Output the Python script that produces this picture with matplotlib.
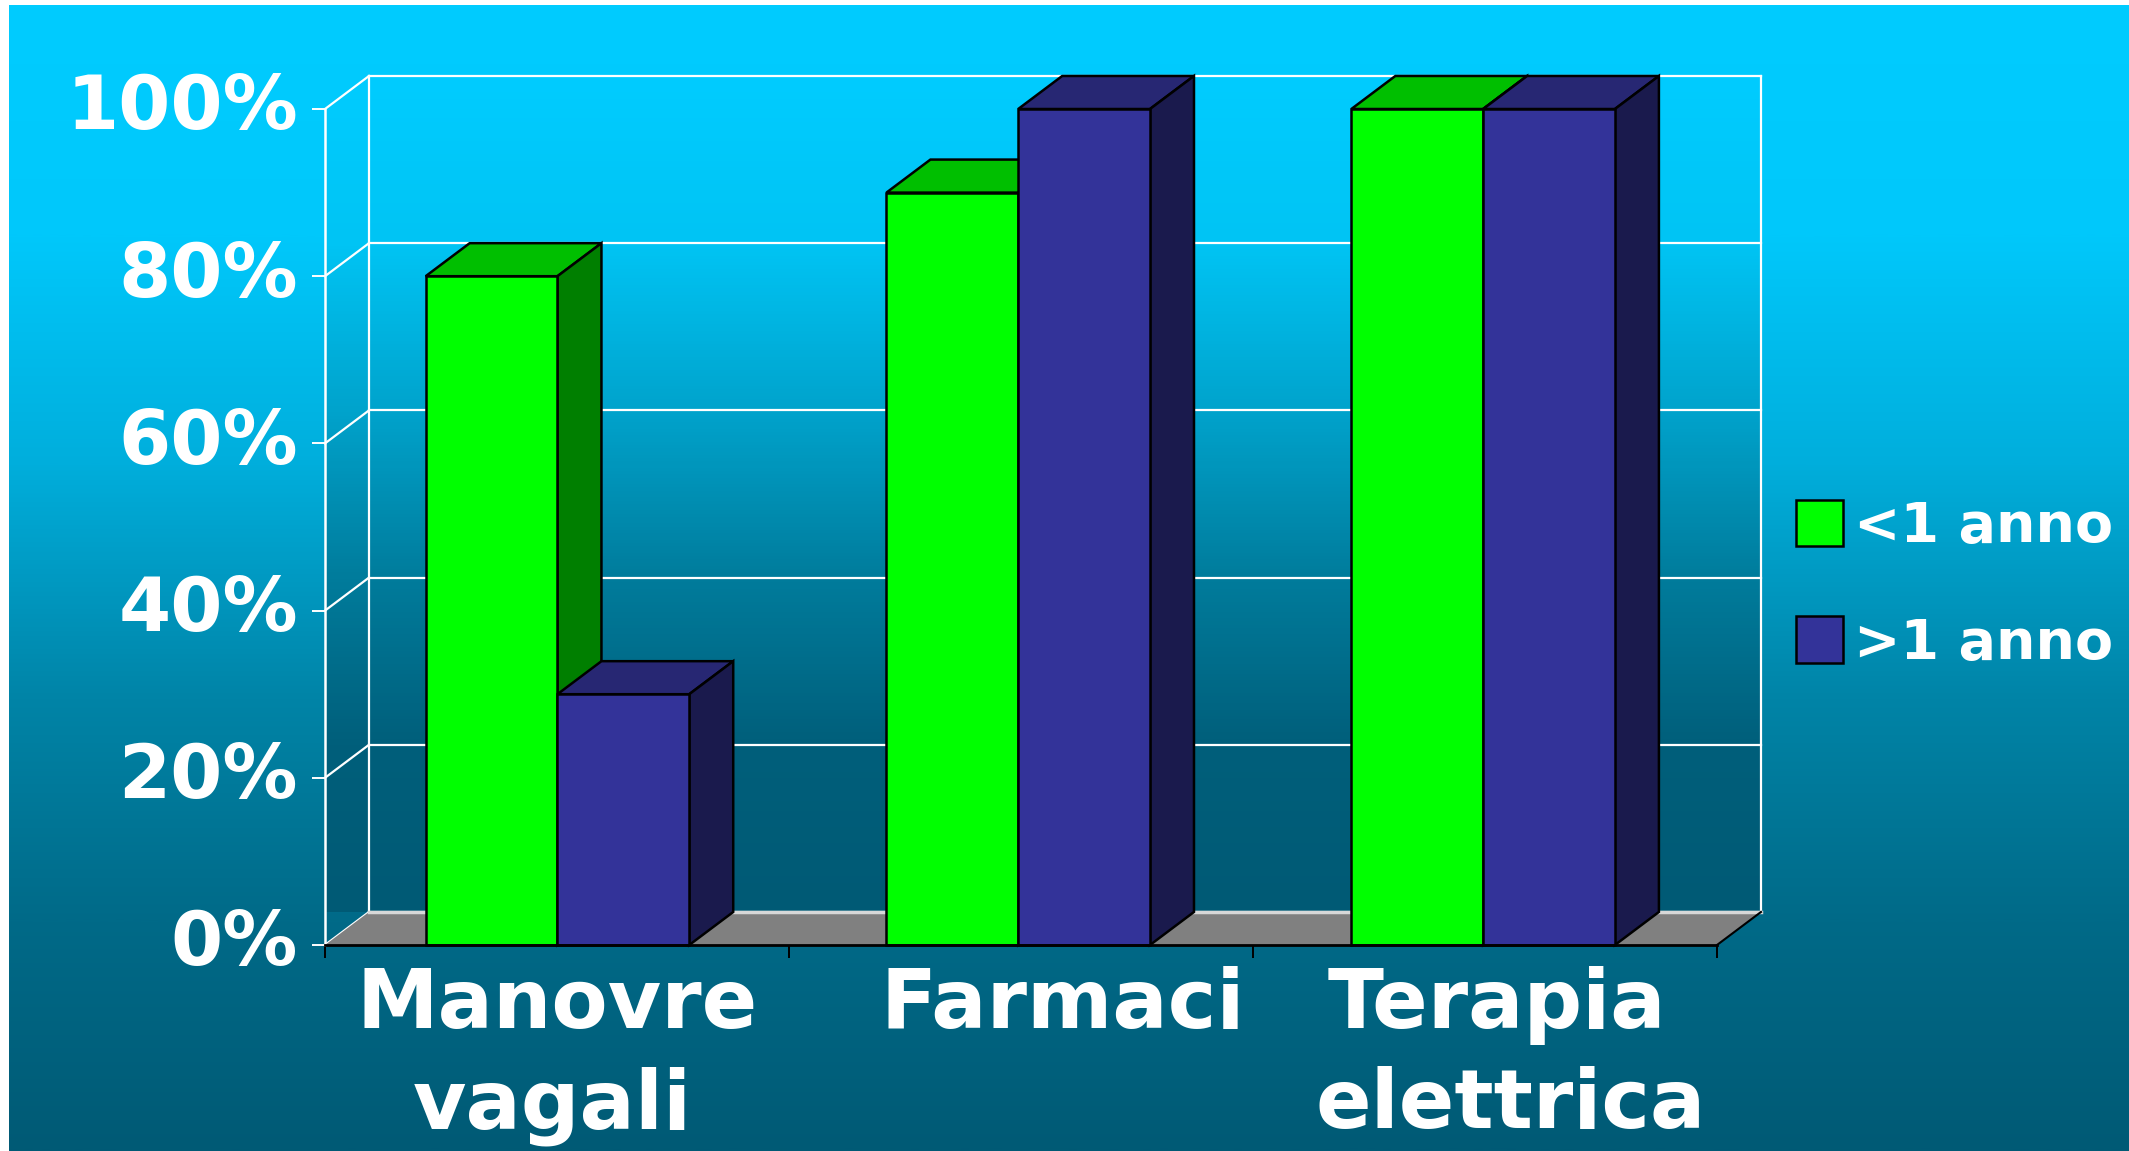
import numpy as np
import matplotlib
matplotlib.use('Agg')
from matplotlib import pyplot as plt
from matplotlib.colors import LinearSegmentedColormap
from matplotlib.patches import Patch, Polygon

categorie = ['Manovre\nvagali', 'Farmaci', 'Terapia\nelettrica']
serie = ['<1 anno', '>1 anno']
meno_di_un_anno = [80, 90, 100]
piu_di_un_anno = [30, 100, 100]
tick_y = [0, 20, 40, 60, 80, 100]

# righe delle etichette: testo, posizione x sull'asse, riga
righe_etichette = [('Manovre', 0.50, 0), ('vagali', 0.49, 1), ('Farmaci', 1.59, 0),
                   ('Terapia', 2.525, 0), ('elettrica', 2.555, 1)]
centri = [0.501, 1.494, 2.496]

L, H = 2129, 1151
VERDE = ('#00FF00', '#00BF00', '#007F00')
BLU = ('#333399', '#272773', '#1A1A4D')
SFONDO = ['#00CCFF', '#00C8FB', '#00AEDC', '#0085A8', '#006A88', '#005A75']
PARETE = ['#00CCFF', '#00C4F4', '#00A3CC', '#007C9C', '#005F7B', '#005A75']

plt.rcParams['font.family'] = 'DejaVu Sans'
plt.rcParams['font.weight'] = 'bold'

fig = plt.figure(figsize=(L / 100, H / 100), dpi=100, facecolor='white')

# sfondo sfumato, con il margine bianco in alto e a sinistra
bg = fig.add_axes([9 / L, 0, 1 - 9 / L, 1 - 5 / H], zorder=-1)
bg.imshow(np.linspace(0, 1, 512).reshape(-1, 1), aspect='auto',
          cmap=LinearSegmentedColormap.from_list('sfondo', SFONDO))
bg.axis('off')

ax = fig.add_axes([325 / L, 1 - 945 / H, (1717 - 325) / L, (945 - 109) / H])
ax.set_xlim(0, 3)
ax.set_ylim(0, 100)
ax.patch.set_visible(False)
for s in ax.spines.values():
    s.set_visible(False)

# profondita' della scena 3D in unita' degli assi
dx = 0.0948
dy = 3.95
x_max = 3

# pareti di fondo e laterale
parete = Polygon([(0, 0), (dx, dy), (x_max + dx, dy), (x_max + dx, 100 + dy), (dx, 100 + dy), (0, 100)],
                 transform=ax.transData, facecolor='none', edgecolor='none')
ax.add_patch(parete)
img = ax.imshow(np.linspace(0, 1, 256).reshape(-1, 1), aspect='auto', zorder=1,
                extent=(0, x_max + dx, dy, 100 + dy),
                cmap=LinearSegmentedColormap.from_list('parete', PARETE))
img.set_clip_box(fig.bbox)
img.set_clip_path(parete)
ax.set_xlim(0, 3)
ax.set_ylim(0, 100)

# griglia bianca
for v in tick_y:
    ax.plot([dx, x_max + dx], [v + dy, v + dy], color='white', lw=1.6, zorder=2, clip_on=False)
    ax.plot([0, dx], [v, v + dy], color='white', lw=1.6, zorder=2, clip_on=False)
ax.plot([dx, dx], [dy, 100 + dy], color='white', lw=1.6, zorder=2, clip_on=False)
ax.plot([x_max + dx, x_max + dx], [dy, 100 + dy], color='white', lw=1.6, zorder=2, clip_on=False)
ax.plot([0, 0], [0, 100], color='white', lw=1.8, zorder=2, clip_on=False)

# pavimento grigio
ax.add_patch(Polygon([(0, 0), (x_max, 0), (x_max + dx, dy), (dx, dy)], facecolor='#808080',
                     edgecolor='none', zorder=3, clip_on=False))
ax.plot([dx, x_max + dx], [dy, dy], color='#D8D8D8', lw=2.5, zorder=3, clip_on=False)
ax.plot([x_max, x_max + dx], [0, dy], color='black', lw=1.5, zorder=3, clip_on=False)
ax.plot([0, x_max], [0, 0], color='black', lw=2, zorder=9, clip_on=False)

larghezza = 0.284


def barra_3d(x, v, colori, z):
    fronte, sopra, lato = colori
    ax.add_patch(Polygon([(x, v), (x + dx, v + dy), (x + larghezza + dx, v + dy), (x + larghezza, v)],
                         facecolor=sopra, edgecolor='black', lw=1.8, zorder=z, clip_on=False))
    ax.add_patch(Polygon([(x + larghezza, 0), (x + larghezza + dx, dy), (x + larghezza + dx, v + dy),
                          (x + larghezza, v)],
                         facecolor=lato, edgecolor='black', lw=1.8, zorder=z, clip_on=False))
    ax.bar(x, v, width=larghezza, align='edge', color=fronte, edgecolor='black', lw=1.8,
           zorder=z + 0.1, clip_on=False)


for i in range(len(categorie)):
    barra_3d(centri[i] - larghezza, meno_di_un_anno[i], VERDE, 4 + i)
    barra_3d(centri[i], piu_di_un_anno[i], BLU, 4.5 + i)

ax.set_yticks(tick_y)
ax.set_yticklabels([f'{v}%' for v in tick_y], fontsize=54, color='white', fontweight='bold')
for t in ax.get_yticklabels():
    t.set_verticalalignment('center')
ax.tick_params(axis='y', length=9.5, width=1.4, color='white', pad=10)
ax.set_xticks(range(len(categorie) + 1))
ax.set_xticklabels([])
ax.tick_params(axis='x', length=9.5, width=1.4, color='black')

for testo, x, riga in righe_etichette:
    ax.annotate(testo, xy=(x, 0), xycoords=('data', 'axes fraction'), xytext=(0, -60 - 72 * riga),
                textcoords='offset points', ha='center', va='baseline', fontsize=59,
                color='white', fontweight='bold', annotation_clip=False)

maniglie = [Patch(facecolor=VERDE[0], edgecolor='black', lw=1.8),
            Patch(facecolor=BLU[0], edgecolor='black', lw=1.8)]
fig.legend(maniglie, serie, loc='upper left', bbox_to_anchor=(1796 / L, 1 - 500 / H),
           bbox_transform=fig.transFigure, frameon=False, borderpad=0, borderaxespad=0,
           handlelength=0.84, handleheight=0.9, handletextpad=0.2, labelspacing=1.12,
           labelcolor='white', prop={'weight': 'bold', 'size': 40})

fig.savefig('out.png', dpi=100)
plt.close()
